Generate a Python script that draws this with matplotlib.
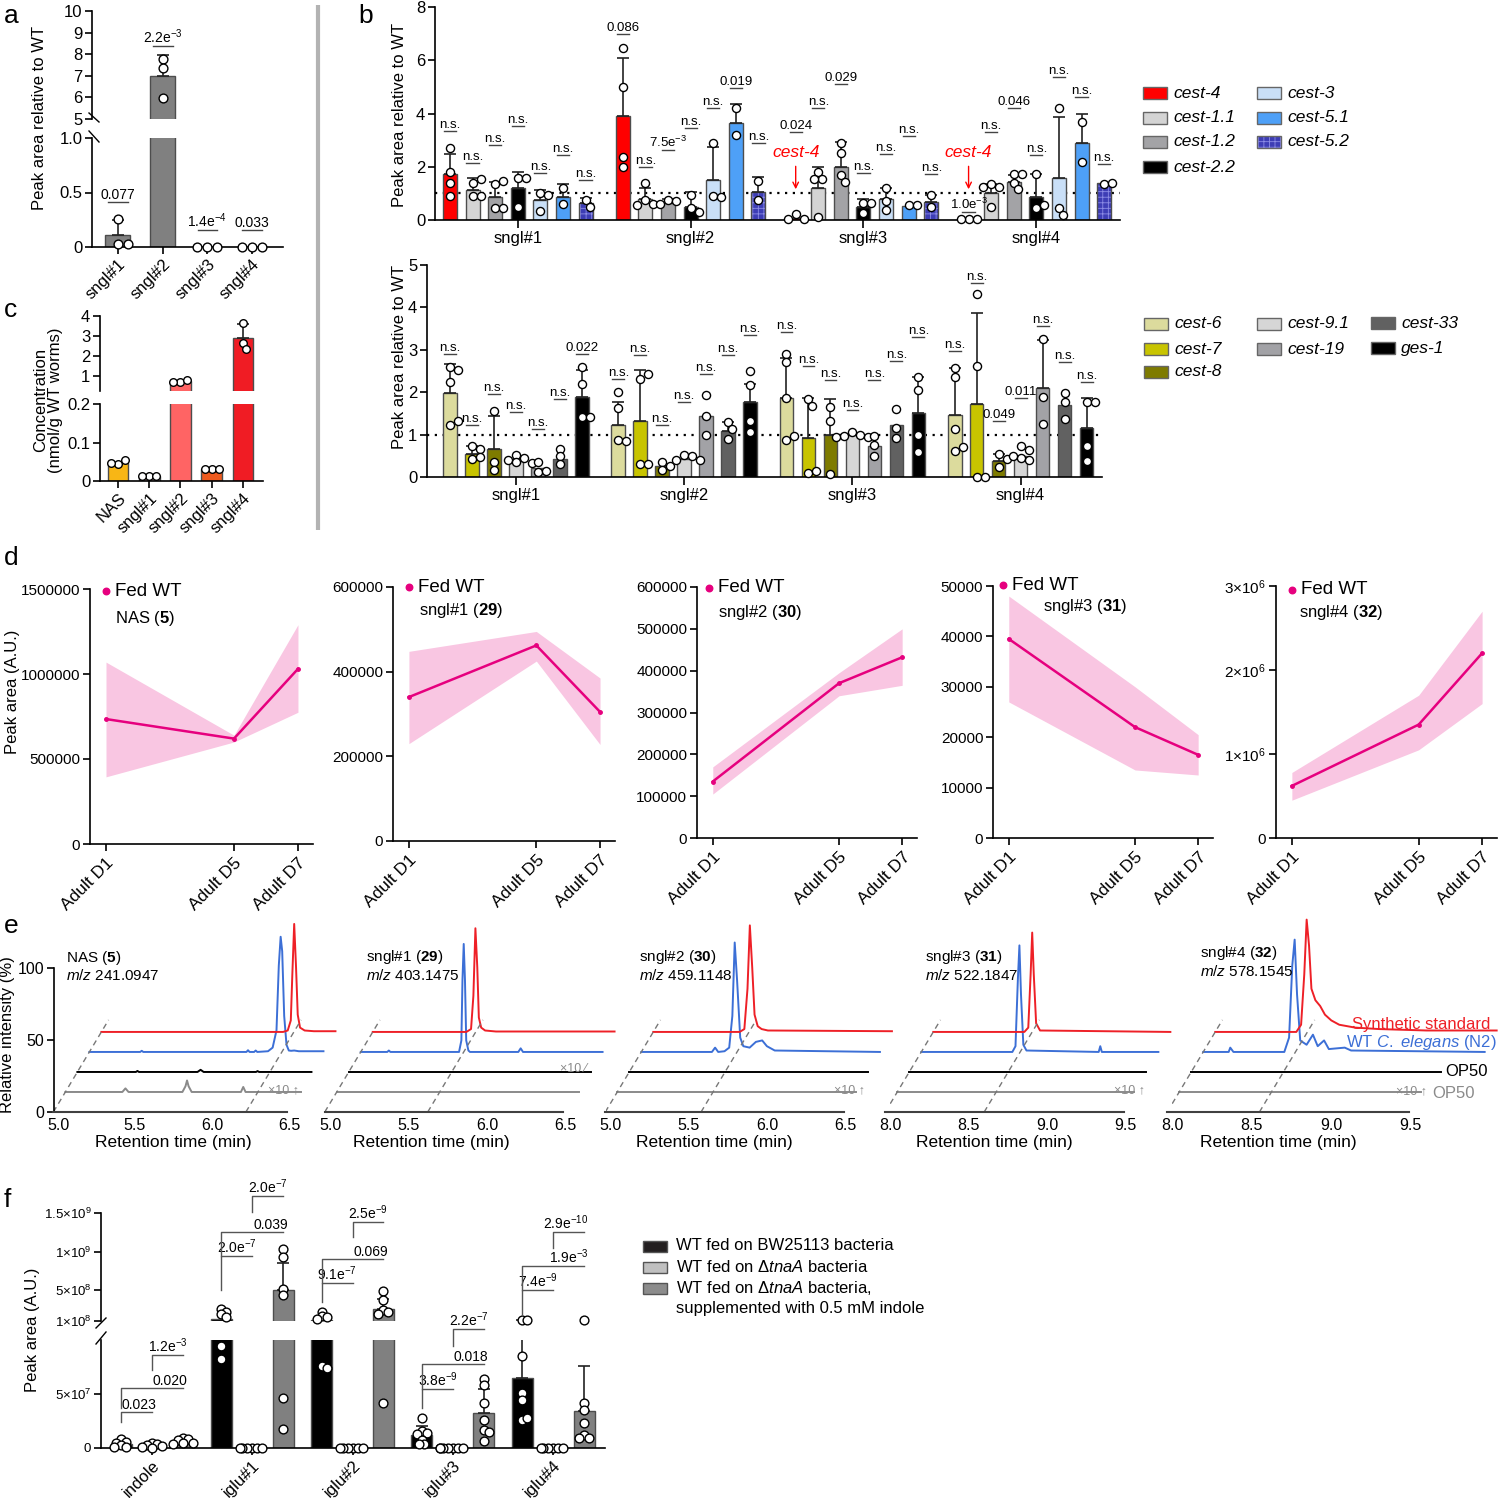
import matplotlib
matplotlib.use('Agg')
import matplotlib.pyplot as plt
import numpy as np
from matplotlib.patches import Rectangle

plt.rcParams['font.family'] = ['Liberation Sans', 'DejaVu Sans']
plt.rcParams['mathtext.fontset'] = 'custom'
plt.rcParams['mathtext.rm'] = 'Liberation Sans'
plt.rcParams['mathtext.it'] = 'Liberation Sans:italic'
plt.rcParams['mathtext.bf'] = 'Liberation Sans:bold'
plt.rcParams['axes.linewidth'] = 1.2
plt.rcParams['xtick.major.width'] = 1.2
plt.rcParams['ytick.major.width'] = 1.2
plt.rcParams['xtick.major.size'] = 5
plt.rcParams['ytick.major.size'] = 5
plt.rcParams['hatch.linewidth'] = 0.6

# ---------------- data: panel a ----------------
a_labels = ['sngl#1', 'sngl#2', 'sngl#3', 'sngl#4']
a_mean = [0.11, 7.0, 0.0, 0.0]
a_err = [0.25, 7.95, 0.0, 0.0]
a_pts = [[0.26, 0.03, 0.03], [7.8, 7.35, 5.95], [0, 0, 0], [0, 0, 0]]
a_p = ['0.077', '2.2e$^{-3}$', '1.4e$^{-4}$', '0.033']
a_py = [0.41, 8.38, 0.156, 0.156]

# ---------------- data: panel c ----------------
c_labels = ['NAS', 'sngl#1', 'sngl#2', 'sngl#3', 'sngl#4']
c_mean = [0.048, 0.013, 0.75, 0.031, 2.88]
c_err = [0.0, 0.0, 0.0, 0.0, 3.6]
c_pts = [[0.044, 0.055, 0.047], [0.013, 0.013, 0.013], [0.72, 0.8, 0.72],
         [0.031, 0.031, 0.031], [3.65, 2.67, 2.35]]
c_colors = ['#F8B615', '#F9D3D3', '#FF6464', '#EE5A1E', '#F01C24']

# ---------------- data: panel b ----------------
b_groups = ['sngl#1', 'sngl#2', 'sngl#3', 'sngl#4']
bt_genes = ['cest-4', 'cest-1.1', 'cest-1.2', 'cest-2.2', 'cest-3', 'cest-5.1', 'cest-5.2']
bt_colors = ['#FF0000', '#D4D4D4', '#A3A3A6', '#000000', '#C9DFF7', '#4EA0F7', '#3D3DB5']
bt_mean = [[1.73, 1.13, 0.88, 1.2, 0.75, 0.85, 0.63],
           [3.91, 0.78, 0.65, 0.5, 1.5, 3.65, 1.07],
           [0.06, 1.2, 1.98, 0.5, 0.78, 0.53, 0.68],
           [0.02, 1.0, 1.44, 0.88, 1.57, 2.88, 1.4]]
bt_err = [[2.48, 1.57, 1.44, 1.82, 1.13, 1.34, 0.82],
          [6.1, 1.2, 0.78, 1.05, 2.75, 4.36, 1.62],
          [0.0, 1.98, 2.92, 0.78, 1.2, 0.0, 0.94],
          [0.0, 1.35, 1.69, 1.72, 3.86, 3.98, 0.0]]
bt_pts = [[[2.7, 1.8, 1.4, 0.9], [1.4, 1.55, 0.9, 0.9], [1.35, 1.45, 0.45, 0.45], [1.57, 1.57, 0.5],
           [1.0, 0.95, 0.35], [1.2, 0.6], [0.74, 0.5]],
          [[6.47, 5.0, 2.37, 2.0], [1.4, 0.75, 0.6, 0.55], [0.75, 0.73, 0.6], [0.95, 0.45, 0.3],
           [2.9, 0.9, 0.85], [4.2, 3.2], [1.47, 0.75]],
          [[0.22, 0.02, 0.02], [1.82, 1.55, 1.55, 0.1], [2.88, 2.5, 1.69, 1.44], [0.65, 0.65, 0.25],
           [1.2, 0.72, 0.38], [0.55, 0.55], [0.93, 0.48]],
          [[0.02, 0.02, 0.02], [1.35, 1.25, 1.25, 0.5], [1.72, 1.72, 1.4, 1.16], [1.72, 0.44, 0.56],
           [4.2, 0.44, 0.19], [3.68, 2.17], [1.35, 1.4]]]
bt_p = [['n.s.'] * 7,
        ['0.086', 'n.s.', '7.5e$^{-3}$', 'n.s.', 'n.s.', '0.019', 'n.s.'],
        ['0.024', 'n.s.', '0.029', 'n.s.', 'n.s.', 'n.s.', 'n.s.'],
        ['1.0e$^{-3}$', 'n.s.', '0.046', 'n.s.', 'n.s.', 'n.s.', 'n.s.']]
bt_py = [[3.35, 2.13, 2.82, 3.53, 1.75, 2.44, 1.5],
         [6.98, 2.0, 2.63, 3.45, 4.2, 4.95, 2.88],
         [3.32, 4.2, 5.12, 1.76, 2.47, 3.16, 1.73],
         [0.31, 3.29, 4.2, 2.44, 5.37, 4.61, 2.1]]

bb_genes = ['cest-6', 'cest-7', 'cest-8', 'cest-9.1', 'cest-19', 'cest-33', 'ges-1']
bb_colors = ['#DCDB9D', '#C8C400', '#7E7B00', '#D6D6D6', '#A2A2A6', '#616161', '#000000']
bb_mean = [[1.98, 0.54, 0.67, 0.37, 0.21, 0.43, 1.88],
           [1.23, 1.33, 0.27, 0.43, 1.44, 1.09, 1.76],
           [1.86, 0.93, 1.0, 0.98, 0.72, 1.22, 1.5],
           [1.47, 1.72, 0.38, 0.5, 2.11, 1.69, 1.15]]
bb_err = [[2.66, 0.72, 1.43, 0.0, 0.0, 0.0, 2.53],
          [1.78, 2.53, 0.0, 0.0, 0.0, 1.3, 2.2],
          [2.8, 1.86, 1.84, 0.0, 0.0, 0.0, 2.37],
          [2.57, 3.86, 0.55, 0.0, 3.23, 0.0, 1.86]]
bb_pts = [[[2.6, 2.53, 2.25, 1.22, 1.31], [0.72, 0.67, 0.43, 0.47], [1.55, 0.35, 0.16],
           [0.53, 0.45, 0.4, 0.35, 0.33], [0.35, 0.12, 0.15], [0.67, 0.49, 0.31], [2.6, 2.19, 1.41, 1.41]],
          [[2.0, 1.62, 0.88, 0.84], [2.31, 2.43, 0.31, 0.31], [0.35, 0.17, 0.25], [0.51, 0.5, 0.41, 0.41],
           [1.94, 1.44, 1.0], [1.3, 1.14, 0.9], [2.51, 2.17, 1.31, 1.06]],
          [[2.9, 2.71, 1.86, 0.88, 0.97], [1.84, 1.68, 0.09, 0.13], [1.66, 1.33, 0.08],
           [1.05, 1.0, 0.97, 0.95, 0.95], [0.96, 0.76, 0.5], [1.61, 1.15, 0.92], [2.37, 2.06, 1.0, 0.6]],
          [[2.57, 2.35, 1.14, 0.62, 0.71], [4.31, 2.62, 0.0, 0.0], [0.55, 0.43, 0.24],
           [0.74, 0.64, 0.45, 0.41, 0.5], [3.26, 1.88, 1.25], [1.98, 1.78, 1.37], [1.77, 1.78, 0.74, 0.37]]]
bb_p = [['n.s.'] * 6 + ['0.022'],
        ['n.s.'] * 7,
        ['n.s.'] * 7,
        ['n.s.', 'n.s.', '0.049', '0.011', 'n.s.', 'n.s.', 'n.s.']]
bb_py = [[2.9, 1.22, 1.95, 1.53, 1.14, 1.84, 2.9],
         [2.32, 2.88, 1.22, 1.78, 2.43, 2.88, 3.34],
         [3.41, 2.62, 2.28, 1.57, 2.28, 2.74, 3.3],
         [2.96, 4.58, 1.31, 1.86, 3.57, 2.71, 2.25]]

# ---------------- data: panel d ----------------
d_days = [1, 5, 7]
d_day_labels = ['Adult D1', 'Adult D5', 'Adult D7']
d_names = ['NAS ($\\mathbf{5}$)', 'sngl#1 ($\\mathbf{29}$)', 'sngl#2 ($\\mathbf{30}$)',
           'sngl#3 ($\\mathbf{31}$)', 'sngl#4 ($\\mathbf{32}$)']
d_mean = [[735000, 620000, 1030000], [340000, 462000, 305000], [135000, 370000, 432000],
          [39500, 22000, 16500], [620000, 1350000, 2200000]]
d_low = [[395000, 600000, 775000], [230000, 425000, 228000], [105000, 340000, 365000],
         [27000, 13500, 12500], [450000, 1050000, 1600000]]
d_high = [[1070000, 640000, 1290000], [448000, 495000, 385000], [170000, 395000, 500000],
          [48000, 30000, 20500], [780000, 1700000, 2700000]]
d_ymax = [1500000, 600000, 600000, 50000, 3000000]
d_yticks = [[0, 500000, 1000000, 1500000], [0, 200000, 400000, 600000],
            [0, 100000, 200000, 300000, 400000, 500000, 600000],
            [0, 10000, 20000, 30000, 40000, 50000], [0, 1000000, 2000000, 3000000]]
d_yticklabels = [['0', '500000', '1000000', '1500000'], ['0', '200000', '400000', '600000'],
                 ['0', '100000', '200000', '300000', '400000', '500000', '600000'],
                 ['0', '10000', '20000', '30000', '40000', '50000'],
                 ['0', '1×10$^6$', '2×10$^6$', '3×10$^6$']]

# ---------------- data: panel e (retention time, intensity above own baseline) ----------------
e_names = ['NAS ($\\mathbf{5}$)', 'sngl#1 ($\\mathbf{29}$)', 'sngl#2 ($\\mathbf{30}$)',
           'sngl#3 ($\\mathbf{31}$)', 'sngl#4 ($\\mathbf{32}$)']
e_mz = ['241.0947', '403.1475', '459.1148', '522.1847', '578.1545']
e_peak_rt = [6.22, 5.62, 5.58, 8.60, 8.55]
e1_red = [(4.97, 0), (6.15, 0), (6.18, 1), (6.20, 8), (6.21, 40), (6.222, 75), (6.234, 45), (6.245, 12),
          (6.26, 3), (6.29, 1), (6.35, 0.5), (6.49, 0.5)]
e1_blue = [(4.97, 0), (5.30, 0), (5.31, 0.8), (5.32, 0), (5.99, 0), (6.00, 1.2), (6.01, 0), (6.04, 0),
           (6.05, 1), (6.06, 0), (6.13, 0.5), (6.16, 3), (6.185, 15), (6.20, 60), (6.212, 80), (6.222, 70),
           (6.235, 25), (6.25, 5), (6.265, 1), (6.28, 0.8), (6.30, 1), (6.33, 0.5), (6.49, 0.5)]
e1_black = [(4.97, 0), (5.35, 0), (5.36, 0.7), (5.37, 0), (5.75, 0), (5.77, 1.5), (5.79, 0), (6.13, 0),
            (6.14, 0.6), (6.15, 0), (6.49, 0)]
e1_gray = [(4.97, 0), (5.34, 0), (5.36, 2.5), (5.38, 0), (5.73, 0), (5.75, 4), (5.76, 8), (5.77, 4),
           (5.79, 0), (6.11, 0), (6.125, 3.5), (6.14, 0), (6.50, 0)]
e2_red = [(4.96, 0), (5.56, 0), (5.59, 2), (5.605, 25), (5.618, 72), (5.63, 45), (5.64, 10), (5.655, 3),
          (5.68, 1), (5.75, 0.3), (6.51, 0.3)]
e2_blue = [(4.96, 0), (5.13, 0), (5.14, 1), (5.15, 0), (5.59, 0), (5.605, 8), (5.612, 50), (5.62, 75),
           (5.628, 50), (5.636, 8), (5.65, 1), (5.66, 0), (5.97, 0), (5.985, 2.5), (6.0, 0), (6.51, 0)]
e2_black = [(4.96, 0), (6.51, 0)]
e2_gray = [(4.96, 0), (6.51, 0)]
e3_red = [(4.97, 0), (5.52, 0), (5.55, 2), (5.57, 30), (5.585, 74), (5.60, 45), (5.615, 12), (5.635, 4),
          (5.66, 2), (5.70, 1), (6.49, 0.5)]
e3_blue = [(4.97, 0), (5.42, 0), (5.44, 3), (5.46, 0), (5.50, 0.5), (5.53, 3), (5.55, 25), (5.565, 76),
           (5.58, 50), (5.60, 10), (5.62, 4), (5.66, 3), (5.70, 7), (5.74, 8), (5.77, 4), (5.82, 1), (6.49, 0)]
e3_black = [(4.97, 0), (6.49, 0)]
e3_gray = [(4.97, 0), (6.49, 0)]
e4_red = [(7.97, 0), (8.55, 0), (8.575, 3), (8.59, 40), (8.60, 69), (8.61, 40), (8.625, 6), (8.65, 1),
          (9.48, 0)]
e4_blue = [(7.97, 0), (8.55, 0), (8.57, 4), (8.585, 50), (8.595, 74), (8.605, 40), (8.62, 5), (8.64, 1),
           (9.10, 0), (9.11, 4), (9.12, 0), (9.48, 0)]
e4_black = [(7.97, 0), (9.48, 0)]
e4_gray = [(7.97, 0), (9.48, 0)]
e5_red = [(7.97, 0), (8.48, 0), (8.51, 5), (8.53, 40), (8.545, 78), (8.56, 60), (8.575, 30), (8.60, 22),
          (8.63, 18), (8.66, 12), (8.70, 8), (8.75, 5), (8.85, 3), (9.0, 2), (9.3, 1), (9.74, 1)]
e5_blue = [(7.97, 0), (8.13, 0), (8.14, 3), (8.16, 0), (8.48, 0), (8.51, 10), (8.53, 60), (8.545, 78),
           (8.56, 40), (8.58, 8), (8.62, 5), (8.66, 12), (8.69, 4), (8.73, 8), (8.76, 2), (8.86, 3),
           (8.9, 1), (9.74, 0)]
e5_black = [(7.97, 0), (9.54, 0)]
e5_gray = [(7.97, 0), (9.49, 0)]
e_traces = [(e1_gray, e1_black, e1_blue, e1_red), (e2_gray, e2_black, e2_blue, e2_red),
            (e3_gray, e3_black, e3_blue, e3_red), (e4_gray, e4_black, e4_blue, e4_red),
            (e5_gray, e5_black, e5_blue, e5_red)]

# ---------------- data: panel f ----------------
f_groups = ['indole', 'iglu#1', 'iglu#2', 'iglu#3', 'iglu#4']
f_conditions = ['WT fed on BW25113 bacteria', 'WT fed on Δ$\\mathit{tnaA}$ bacteria',
                'WT fed on Δ$\\mathit{tnaA}$ bacteria,\nsupplemented with 0.5 mM indole']
f_colors = ['#000000', '#BFBFBF', '#808080']
f_mean = [[3.5e6, 2.5e6, 5.5e6], [1.2e8, 0, 4.97e8], [1.08e8, 0, 2.5e8], [1.25e7, 0, 3.24e7],
          [6.5e7, 0, 3.4e7]]
f_err = [[0, 0, 0], [0, 0, 8.56e8], [0, 0, 3.9e8], [2.0e7, 0, 5.46e7], [1.1e8, 0, 7.56e7]]
f_pts = [[[8e6, 6e6, 4.5e6, 2.5e6, 1e6, 0.6e6], [5e6, 3.5e6, 2.5e6, 1.5e6, 0.8e6, 0.3e6],
          [9.3e6, 8e6, 7e6, 5e6, 4.6e6, 4e6]],
         [[2.6e8, 2.2e8, 1.9e8, 1.5e8, 9.4e7, 8.2e7], [0] * 6, [1.03e9, 9.3e8, 5.2e8, 4.4e8, 4.6e7, 1.8e7]],
         [[2.2e8, 1.6e8, 1.5e8, 1.3e8, 7.6e7, 7.4e7], [0] * 6, [4.85e8, 3.7e8, 2.4e8, 2.2e8, 1.95e8, 4.2e7]],
         [[2.8e7, 1.6e7, 1.4e7, 1.3e7, 7.7e6, 4e6, 3.7e6], [0] * 7,
          [6.4e7, 5.8e7, 4.2e7, 2.6e7, 1.7e7, 1.5e7, 6.2e6]],
         [[1.1e8, 1.1e8, 8.5e7, 5.1e7, 4.4e7, 2.6e7, 2.8e7], [0] * 6,
          [1.1e8, 4.2e7, 3.5e7, 2.3e7, 1.2e7, 9e6, 9e6]]]
# brackets: (left bar, right bar, line height, leg bottom, label)
f_brackets = [[(0, 1, 3.3e7, 2.4e7, '0.023'), (0, 2, 5.56e7, 3.7e7, '0.020'), (1, 2, 8.6e7, 7.25e7, '1.2e$^{-3}$')],
              [(0, 1, 9.4e8, 5.0e8, '2.0e$^{-7}$'), (0, 2, 1.25e9, 9.4e8, '0.039'), (1, 2, 1.72e9, 1.51e9, '2.0e$^{-7}$')],
              [(0, 1, 5.97e8, 3.46e8, '9.1e$^{-7}$'), (0, 2, 8.99e8, 5.97e8, '0.069'), (1, 2, 1.38e9, 1.19e9, '2.5e$^{-9}$')],
              [(0, 1, 5.46e7, 3.7e7, '3.8e$^{-9}$'), (0, 2, 7.78e7, 5.46e7, '0.018'), (1, 2, 1.10e8, 9.4e7, '2.2e$^{-7}$')],
              [(0, 1, 4.98e8, 1.8e8, '7.4e$^{-9}$'), (0, 2, 8.13e8, 4.98e8, '1.9e$^{-3}$'), (1, 2, 1.26e9, 1.05e9, '2.9e$^{-10}$')]]

# ---------------- helpers ----------------
W, H = 1500, 1498
fig = plt.figure(figsize=(W / 100, H / 100), dpi=100)


def box(x0, y0, x1, y1):
    ax = fig.add_axes([x0 / W, 1 - y1 / H, (x1 - x0) / W, (y1 - y0) / H])
    ax.spines['top'].set_visible(False)
    ax.spines['right'].set_visible(False)
    ax.patch.set_alpha(0)
    return ax


def no_x(ax):
    ax.spines['bottom'].set_visible(False)
    ax.tick_params(axis='x', bottom=False, labelbottom=False)


def swarm(vals, ypix, xpx, d=8.0):
    placed, offs = [], []
    for v in vals:
        y = ypix(v)
        x = 0.0
        for k in [0, 1, -1, 2, -2, 3, -3, 4, -4, 5, -5]:
            x = k * d * 0.5
            if all((x - a) ** 2 + (y - b) ** 2 >= (0.92 * d) ** 2 for a, b in placed):
                break
        placed.append((x, y))
        offs.append(x / xpx)
    return offs


def bars(axs, x, mean, err, pts, color, width, xpx, ypix, d=8, s=36, hatch=None, cap=4):
    for ax in axs:
        if hatch:
            ax.bar(x, mean, width, color=color, edgecolor='#8C8CE6', hatch=hatch, linewidth=0, zorder=2)
            ax.bar(x, mean, width, fill=False, edgecolor='#4d4d4d', linewidth=1, zorder=2)
        else:
            ax.bar(x, mean, width, color=color, edgecolor='#4d4d4d', linewidth=1, zorder=2)
        if err > mean:
            ax.errorbar(x, mean, yerr=[[0], [err - mean]], fmt='none', ecolor='#222222',
                        elinewidth=1.2, capsize=cap, capthick=1.2, zorder=3)
    offs = swarm(pts, ypix, xpx, d)
    for v, o in zip(pts, offs):
        ax = axs[0]
        for a in axs:
            lo, hi = a.get_ylim()
            if lo <= v <= hi:
                ax = a
        ax.scatter([x + o], [v], s=s, facecolor='white', edgecolor='black', linewidth=1,
                   zorder=4, clip_on=False)


def pmark(ax, x, y, txt, half, fs=9):
    ax.plot([x - half, x + half], [y, y], color='#444444', lw=1, clip_on=False, zorder=5)
    ax.text(x, y, txt, ha='center', va='bottom', fontsize=fs, clip_on=False, zorder=5)


# ---------------- panel a ----------------
a_lo = box(92, 138, 283, 247)
a_hi = box(92, 11, 283, 119)
for ax in (a_lo, a_hi):
    ax.set_xlim(-0.58, 3.69)
    ax.tick_params(labelsize=12, pad=2)
no_x(a_hi)
a_lo.set_ylim(0, 1.0)
a_hi.set_ylim(5, 10)
a_lo.set_yticks([0, 0.5, 1.0])
a_lo.set_yticklabels(['0', '0.5', '1.0'])
a_hi.set_yticks(range(5, 11))
a_lo.set_xticks(range(4))
a_lo.set_xticklabels(a_labels, rotation=45, ha='right', rotation_mode='anchor', fontsize=12)
a_ypix = lambda v: v * 109 if v <= 1 else 128 + (v - 5) * 21.6
for i in range(4):
    bars([a_lo, a_hi], i, a_mean[i], a_err[i], a_pts[i], '#808080', 0.56, 44.7, a_ypix, d=10, s=40)
    ax = a_hi if a_py[i] > 1 else a_lo
    pmark(ax, i, a_py[i], a_p[i], 0.22, fs=10)

# ---------------- panel c ----------------
c_lo = box(100, 404, 263, 481)
c_hi = box(100, 316, 263, 391)
for ax in (c_lo, c_hi):
    ax.set_xlim(-0.575, 4.64)
    ax.tick_params(labelsize=12, pad=2)
no_x(c_hi)
c_lo.set_ylim(0, 0.2)
c_hi.set_ylim(0.25, 4)
c_lo.set_yticks([0, 0.1, 0.2])
c_lo.set_yticklabels(['0', '0.1', '0.2'])
c_hi.set_yticks([1, 2, 3, 4])
c_lo.set_xticks(range(5))
c_lo.set_xticklabels(c_labels, rotation=45, ha='right', rotation_mode='anchor', fontsize=12)
c_ypix = lambda v: v * 385 if v <= 0.2 else 90 + (v - 0.25) * 20
for i in range(5):
    bars([c_lo, c_hi], i, c_mean[i], c_err[i], c_pts[i], c_colors[i], 0.67, 31.3, c_ypix, d=7, s=30)

# ---------------- panel b ----------------
GSTEP = 7.65
bt = box(435, 7, 1120, 220)
bt.set_xlim(-0.66, 29.65)
bt.set_ylim(0, 8)
bt.set_yticks([0, 2, 4, 6, 8])
bb = box(427, 265, 1102, 477)
bb.set_xlim(-1.05, 29.65)
bb.set_ylim(0, 5)
bb.set_yticks(range(6))
for ax in (bt, bb):
    ax.tick_params(labelsize=12, pad=2)
    ax.set_xticks([g * GSTEP + 3 for g in range(4)])
    ax.set_xticklabels(b_groups, fontsize=12)
    ax.tick_params(axis='x', length=6)
    ax.axhline(1, color='black', lw=1.6, ls=(0, (1, 2.5)), zorder=1)

for g in range(4):
    for i in range(7):
        x = g * GSTEP + i
        bars([bt], x, bt_mean[g][i], bt_err[g][i], bt_pts[g][i], bt_colors[i], 0.62, 22.6,
             lambda v: v * 26.6, d=8, s=34, hatch='+++' if i == 6 else None)
        pmark(bt, x, bt_py[g][i], bt_p[g][i], 0.27, fs=9.5)
        bars([bb], x, bb_mean[g][i], bb_err[g][i], bb_pts[g][i], bb_colors[i], 0.62, 22.0,
             lambda v: v * 42.4, d=8, s=34)
        pmark(bb, x, bb_py[g][i], bb_p[g][i], 0.27, fs=9.5)
for g in (2, 3):
    x = g * GSTEP
    bt.text(x, 2.52, 'cest-4', color='#FF0000', style='italic', fontsize=12.5, ha='center', va='center')
    bt.annotate('', xy=(x, 1.05), xytext=(x, 2.12),
                arrowprops=dict(arrowstyle='->', color='#FF0000', lw=1, mutation_scale=10))

# ---------------- panel d ----------------
d_boxes = [(90, 589, 313, 844), (393, 587, 615, 841), (697, 587, 917, 838),
           (993, 586, 1213, 838), (1276, 586, 1497, 838)]
PINK = '#E6007E'
for k in range(5):
    ax = box(*d_boxes[k])
    ax.set_xlim(0.5, 7.47)
    ax.set_ylim(0, d_ymax[k])
    ax.fill_between(d_days, d_low[k], d_high[k], color='#F9C6E2', lw=0, zorder=1)
    ax.plot(d_days, d_mean[k], color=PINK, lw=1.8, marker='o', ms=2.5, zorder=2)
    ax.set_yticks(d_yticks[k])
    ax.set_yticklabels(d_yticklabels[k])
    ax.set_xticks(d_days)
    ax.set_xticklabels(d_day_labels, rotation=45, ha='right', rotation_mode='anchor', fontsize=12.5)
    ax.tick_params(axis='y', labelsize=11, pad=2)

# ---------------- panel e ----------------
e_boxes = [(54, 345, 5.0, 58, 154), (325, 620, 5.0, 331, 156), (606, 895, 5.0, 610, 157),
           (890, 1175, 8.0, 890, 157), (1172, 1500, 8.0, 1172, 159)]
e_colors = ['#8A8A8A', '#000000', '#3C6FD6', '#EE2027']
YS = 1.44
for k in range(5):
    x0, x1, tref, pref, slope = e_boxes[k]
    ax = box(x0, 900, x1, 1112)
    ax.set_xlim(tref + (x0 - pref) / slope, tref + (x1 - pref) / slope)
    ax.set_ylim(0, 212 / YS)
    dx = 12.0 / slope
    dy = 13.9
    t_start = e_traces[k][0][0][0]
    t_end = tref + 1.49
    for layer, (trace, col) in enumerate(zip(e_traces[k], e_colors), start=1):
        t = np.array([p[0] for p in trace])
        y = np.array([p[1] for p in trace])
        ax.plot(t + layer * dx, y + layer * dy, color=col, lw=1.4, clip_on=False)
    for tg in (t_start, e_peak_rt[k]):
        ax.plot([tg, tg + 4.6 * dx], [0, 4.6 * dy], color='#777777', lw=1, ls=(0, (4, 3)))
    ax.spines['bottom'].set_bounds(t_start, t_end)
    ax.spines['bottom'].set_color('#404040')
    ax.spines['bottom'].set_linewidth(1.5)
    ax.set_xticks([tref, tref + 0.5, tref + 1.0, tref + 1.5])
    ax.set_xticklabels(['%.1f' % v for v in (tref, tref + 0.5, tref + 1.0, tref + 1.5)])
    ax.tick_params(axis='x', length=0, labelsize=11.5, pad=4)
    if k == 0:
        ax.spines['left'].set_bounds(0, 100)
        ax.set_yticks([0, 50, 100])
        ax.tick_params(axis='y', labelsize=11.5, pad=2)
    else:
        ax.spines['left'].set_visible(False)
        ax.set_yticks([])

# ---------------- panel f ----------------
f_lo = box(101, 1340, 605, 1448)
f_hi = box(101, 1213, 605, 1321)
FSTEP = 3.25
for ax in (f_lo, f_hi):
    ax.set_xlim(-0.65, 15.68)
    ax.tick_params(labelsize=9.5, pad=2)
no_x(f_hi)
f_lo.set_ylim(0, 1e8)
f_hi.set_ylim(1e8, 1.5e9)
f_lo.set_yticks([0, 5e7])
f_lo.set_yticklabels(['0', '5×10$^7$'])
f_hi.set_yticks([1e8, 5e8, 1e9, 1.5e9])
f_hi.set_yticklabels(['1×10$^8$', '5×10$^8$', '1×10$^9$', '1.5×10$^9$'])
f_lo.set_xticks([g * FSTEP + 1 for g in range(5)])
f_lo.set_xticklabels(f_groups, rotation=45, ha='right', rotation_mode='anchor', fontsize=12)
f_ypix = lambda v: v * 1.08e-6 if v <= 1e8 else 127 + (v - 1e8) * 108 / 1.4e9
for g in range(5):
    for i in range(3):
        x = g * FSTEP + i
        bars([f_lo, f_hi], x, f_mean[g][i], f_err[g][i], f_pts[g][i], f_colors[i], 0.68, 30.9,
             f_ypix, d=5, s=40)
    for (i0, i1, yl, yb, txt) in f_brackets[g]:
        ax = f_lo if yl <= 1.12e8 else f_hi
        x0, x1 = g * FSTEP + i0, g * FSTEP + i1
        ax.plot([x0, x0, x1], [yb, yl, yl], color='#555555', lw=1, clip_on=False, zorder=5)
        ax.text(x1 + 0.15, yl, txt, ha='right', va='bottom', fontsize=10, clip_on=False, zorder=5)

# ---------------- overlay: labels, legends, decorations ----------------
ov = fig.add_axes([0, 0, 1, 1], zorder=10)
ov.set_xlim(0, W)
ov.set_ylim(H, 0)
ov.axis('off')

for lab, x, y in [('a', 4, 16), ('b', 358, 16), ('c', 4, 310), ('d', 4, 558), ('e', 4, 926), ('f', 4, 1200)]:
    ov.text(x, y, lab, fontsize=19, ha='left', va='center')

ov.plot([318, 318], [5, 530], color='#B3B3B3', lw=3, solid_capstyle='butt')

ylabels = [(40, 118, 'Peak area relative to WT'), (399, 115, 'Peak area relative to WT'),
           (399, 357, 'Peak area relative to WT'), (48, 400, 'Concentration\n(nmol/g WT worms)'),
           (13, 692, 'Peak area (A.U.)'), (8, 1035, 'Relative intensity (%)'), (32, 1330, 'Peak area (A.U.)')]
for x, y, t in ylabels:
    ov.text(x, y, t, rotation=90, ha='center', va='center', fontsize=12, linespacing=1.05)

# axis break marks
for (x, y0, y1) in [(94, 113, 122), (94, 131, 142)]:
    ov.plot([x - 5, x + 5], [y0, y1], color='black', lw=1)
for (x, y0, y1) in [(101, 1318, 1328), (101, 1332, 1344)]:
    ov.plot([x - 5, x + 5], [y1, y0], color='black', lw=1)

# legends panel b
for col, lab, x, y in [(bt_colors[0], bt_genes[0], 1143, 93), (bt_colors[1], bt_genes[1], 1143, 118),
                       (bt_colors[2], bt_genes[2], 1143, 142), (bt_colors[3], bt_genes[3], 1143, 167),
                       (bt_colors[4], bt_genes[4], 1257, 93), (bt_colors[5], bt_genes[5], 1257, 118),
                       (bt_colors[6], bt_genes[6], 1257, 142),
                       (bb_colors[0], bb_genes[0], 1144, 324), (bb_colors[1], bb_genes[1], 1144, 349),
                       (bb_colors[2], bb_genes[2], 1144, 372), (bb_colors[3], bb_genes[3], 1257, 324),
                       (bb_colors[4], bb_genes[4], 1257, 349), (bb_colors[5], bb_genes[5], 1371, 323),
                       (bb_colors[6], bb_genes[6], 1371, 348)]:
    hatch = '+++' if lab == 'cest-5.2' else None
    ov.add_patch(Rectangle((x, y - 6), 24, 12, facecolor=col, edgecolor='#8C8CE6' if hatch else '#666666',
                           hatch=hatch, lw=0 if hatch else 1))
    if hatch:
        ov.add_patch(Rectangle((x, y - 6), 24, 12, fill=False, edgecolor='#666666', lw=1))
    ov.text(x + 30, y, lab, style='italic', fontsize=12.5, va='center', ha='left')

# panel d legend and compound names
d_dots = [(106, 591, 115, 618), (409, 587, 419, 611), (709, 588, 718, 612), (1003, 585, 1043, 606),
          (1292, 590, 1299, 613)]
for k, (xd, yd, xn, yn) in enumerate(d_dots):
    ov.scatter([xd], [yd], s=22, color=PINK)
    ov.text(xd + 9, yd, 'Fed WT', fontsize=13.5, va='center', ha='left')
    ov.text(xn, yn, d_names[k], fontsize=12, va='center', ha='left')

# panel e texts
e_text_pos = [(66, 958), (366, 957), (639, 957), (925, 957), (1200, 953)]
for k, (x, y) in enumerate(e_text_pos):
    ov.text(x, y, e_names[k], fontsize=11, va='center', ha='left')
    ov.text(x, y + 18, '$\\mathit{m/z}$ ' + e_mz[k], fontsize=11, va='center', ha='left')
for x, y, t in [(284, 1090, '×10 ↑'), (573, 1069, '×10 ⁄'), (850, 1090, '×10 ↑'), (1130, 1090, '×10 ↑'),
                (1412, 1091, '×10 ↑')]:
    ov.text(x, y, t, fontsize=9, color='#8A8A8A', ha='center', va='center')
for x in (173, 431, 714, 994, 1278):
    ov.text(x, 1143, 'Retention time (min)', fontsize=12.5, ha='center', va='center')
ov.text(1490, 1032, 'Synthetic standard', color='#EE2027', fontsize=12, ha='right', va='bottom')
ov.text(1497, 1052, 'WT $\\mathit{C.\\ elegans}$ (N2)', color='#3C6FD6', fontsize=12, ha='right', va='bottom')
ov.text(1488, 1072, 'OP50', color='black', fontsize=12, ha='right', va='center')
ov.text(1475, 1093, 'OP50', color='#8A8A8A', fontsize=12, ha='right', va='center')

# panel f legend
for col, lab, y in zip(['#231F20', '#C0C0C0', '#8C8C8C'], f_conditions, [1246, 1267, 1288]):
    ov.add_patch(Rectangle((643, y - 5), 24, 11, facecolor=col, edgecolor='#555555', lw=1))
    ov.text(676, y, lab.split('\n')[0], fontsize=12, va='center', ha='left')
    if '\n' in lab:
        ov.text(676, y + 20, lab.split('\n')[1], fontsize=12, va='center', ha='left')

fig.savefig('out.png', dpi=100)
